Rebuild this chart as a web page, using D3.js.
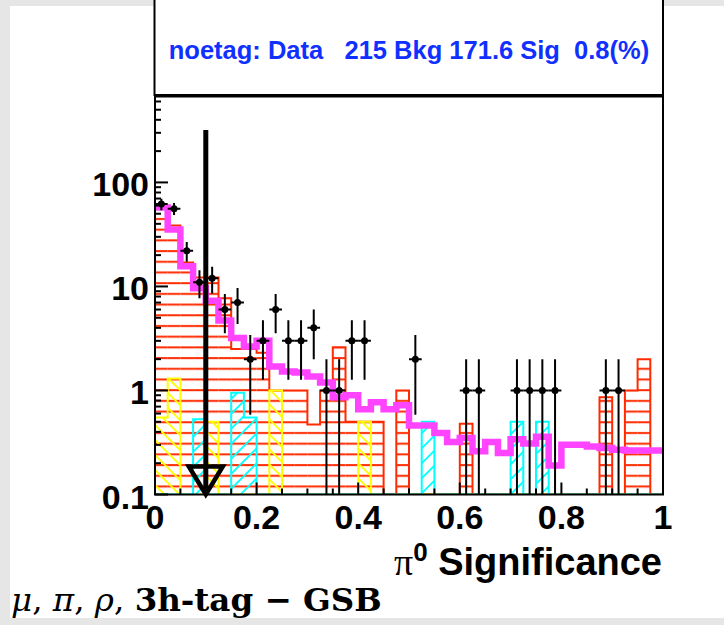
<!DOCTYPE html>
<html>
<head>
<meta charset="utf-8">
<script src="https://cdn.jsdelivr.net/npm/d3@7"></script>
<style>
  body { margin: 0; background: #e6e6e6; }
  svg { display: block; }
</style>
</head>
<body>
<div id="chart"></div>
<script>
// 40 bins over [0, 1]
var nBins = 40, xLo = 0, xHi = 1;

var dataCounts = [62, 56, 22, 11, 12, 6, 7, 2, 3, 6, 3, 3, 4, 1, 1, 3, 3, 0, 0, 0,
                  2, 0, 0, 0, 1, 1, 0, 0, 1, 1, 1, 1, 0, 0, 0, 1, 1, 0, 0, 0];
var bkgRed = [56, 38.6, 17, 12.2, 12.2, 7.7, 2.5, 2.5, 2.3, 1.0, 1.0, 1.0, 0.47, 1.0, 2.6, 0.5, 0.5, 0.5, 0, 1.0,
              0, 0, 0, 0, 0.48, 0, 0, 0, 0, 0, 0, 0, 0, 0, 0, 0.86, 0, 1.0, 2.0, 0];
var sigYellow = [0.55, 1.3, 0, 0, 0.5, 0, 0, 0, 0, 1.0, 0, 0, 0, 0, 0, 0, 0.5, 0, 0, 0,
                 0, 0, 0, 0, 0, 0, 0, 0, 0, 0, 0, 0, 0, 0, 0, 0, 0, 0, 0, 0];
var sigCyan = [0, 0, 0, 0.53, 0, 0, 0.95, 0.55, 0, 0, 0, 0, 0, 0, 0, 0, 0, 0, 0, 0,
               0, 0.5, 0, 0, 0, 0, 0, 0, 0.5, 0, 0.5, 0, 0, 0, 0, 0, 0, 0, 0, 0];
var mcTotal = [57.5, 35.3, 15.6, 9.6, 7.3, 4.7, 3.2, 2.65, 3.0, 1.7, 1.52, 1.49, 1.36, 1.19, 0.86, 0.9, 0.66, 0.77, 0.66, 0.72,
               0.46, 0.46, 0.39, 0.32, 0.35, 0.26, 0.32, 0.25, 0.34, 0.31, 0.36, 0.19, 0.30, 0.30, 0.29, 0.28, 0.27, 0.265, 0.265, 0.265];

var xTickLabels = [0, 0.2, 0.4, 0.6, 0.8, 1];
var yTickLabels = [0.1, 1, 10, 100];
var cutValue = 0.1, arrowTop = 320;
var statText = "noetag: Data   215 Bkg 171.6 Sig  0.8(%)";

var W = 724, H = 625;
var box = { left: 155, right: 663, top: 96.5, bottom: 494.5 };
var yMin = 0.1, yMax = 670;

var x = d3.scaleLinear().domain([xLo, xHi]).range([box.left, box.right]);
var y = d3.scaleLog().domain([yMin, yMax]).range([box.bottom, box.top]);
var bw = (xHi - xLo) / nBins;
var lowEdge = function (i) { return xLo + i * bw; };

var svg = d3.select("#chart").append("svg").attr("width", W).attr("height", H);
svg.append("rect").attr("width", W).attr("height", H).attr("fill", "#e6e6e6");
svg.append("rect").attr("x", 10).attr("y", 6).attr("width", W - 10).attr("height", 612).attr("fill", "#fff");

var defs = svg.append("defs");
defs.append("clipPath").attr("id", "plotClip").append("rect")
    .attr("x", box.left).attr("y", box.top).attr("width", box.right - box.left).attr("height", box.bottom - box.top);

var pRed = defs.append("pattern").attr("id", "hRed").attr("patternUnits", "userSpaceOnUse")
    .attr("width", 8).attr("height", 10.7);
pRed.append("line").attr("x1", 0).attr("x2", 8).attr("y1", 5).attr("y2", 5)
    .attr("stroke", "#ff2a00").attr("stroke-width", 2);
var pYel = defs.append("pattern").attr("id", "hYel").attr("patternUnits", "userSpaceOnUse")
    .attr("width", 15).attr("height", 15);
pYel.append("path").attr("d", "M-1,-1L16,16M-1,14L1,16M14,-1L16,1")
    .attr("stroke", "#ffff00").attr("stroke-width", 1.8);
var pCya = defs.append("pattern").attr("id", "hCya").attr("patternUnits", "userSpaceOnUse")
    .attr("width", 15).attr("height", 15);
pCya.append("path").attr("d", "M-1,16L16,-1M-1,1L1,-1M14,16L16,14")
    .attr("stroke", "#00ffff").attr("stroke-width", 1.8);

var plot = svg.append("g").attr("clip-path", "url(#plotClip)");

// hatched histogram: filled bins + step outline
function drawHatched(vals, pat, col) {
    var g = plot.append("g");
    vals.forEach(function (v, i) {
        if (v <= yMin) return;
        g.append("rect")
            .attr("x", x(lowEdge(i))).attr("width", x(lowEdge(i + 1)) - x(lowEdge(i)))
            .attr("y", y(v)).attr("height", y(yMin) - y(v))
            .attr("fill", "url(#" + pat + ")");
    });
    var pts = [[x(xLo), y(yMin)]];
    vals.forEach(function (v, i) {
        var yy = y(Math.max(v, yMin));
        pts.push([x(lowEdge(i)), yy], [x(lowEdge(i + 1)), yy]);
    });
    pts.push([x(xHi), y(yMin)]);
    g.append("path").attr("d", d3.line()(pts)).attr("fill", "none")
        .attr("stroke", col).attr("stroke-width", 2);
}
drawHatched(bkgRed, "hRed", "#ff2a00");
drawHatched(sigYellow, "hYel", "#ffff00");
drawHatched(sigCyan, "hCya", "#00ffff");

// total MC line
var mPts = [];
mcTotal.forEach(function (v, i) {
    mPts.push([x(lowEdge(i)), y(v)], [x(lowEdge(i + 1)), y(v)]);
});
plot.append("path").attr("d", d3.line()(mPts)).attr("fill", "none")
    .attr("stroke", "#ff44ff").attr("stroke-width", 6.5).attr("stroke-linejoin", "miter");

// data points
var dg = plot.append("g");
dataCounts.forEach(function (n, i) {
    if (n <= 0) return;
    var cx = x(lowEdge(i) + bw / 2), e = Math.sqrt(n);
    var lo = n - e > yMin ? n - e : yMin;
    dg.append("line").attr("x1", cx).attr("x2", cx).attr("y1", y(n + e)).attr("y2", y(lo))
        .attr("stroke", "#000").attr("stroke-width", 2);
    dg.append("line").attr("x1", x(lowEdge(i))).attr("x2", x(lowEdge(i + 1))).attr("y1", y(n)).attr("y2", y(n))
        .attr("stroke", "#000").attr("stroke-width", 2);
    dg.append("circle").attr("cx", cx).attr("cy", y(n)).attr("r", 3.5).attr("fill", "#000");
});

// frame and axes
svg.append("rect").attr("x", box.left).attr("y", box.top).attr("width", box.right - box.left)
    .attr("height", box.bottom - box.top).attr("fill", "none").attr("stroke", "#000").attr("stroke-width", 2);

var ax = svg.append("g").attr("stroke", "#000").attr("stroke-width", 2);
d3.range(0, 21).forEach(function (k) {
    var v = k * 0.05, major = k % 4 === 0;
    ax.append("line").attr("x1", x(v)).attr("x2", x(v))
        .attr("y1", box.bottom).attr("y2", box.bottom - (major ? 12 : 6));
});
y.ticks().forEach(function (v) {
    if (v > yMax) return;
    var major = Math.abs(Math.log10(v) - Math.round(Math.log10(v))) < 1e-6;
    ax.append("line").attr("x1", box.left).attr("x2", box.left + (major ? 13 : 6))
        .attr("y1", y(v)).attr("y2", y(v));
});

var lab = svg.append("g").attr("font-family", "'Liberation Sans', Arial, sans-serif")
    .attr("font-weight", "bold").attr("font-size", 34).attr("fill", "#000");
xTickLabels.forEach(function (v) {
    lab.append("text").attr("x", x(v)).attr("y", 529).attr("text-anchor", "middle").text(v);
});
yTickLabels.forEach(function (v) {
    lab.append("text").attr("x", 149).attr("y", y(v) + 14).attr("text-anchor", "end").text(v);
});

// cut arrow
var ag = svg.append("g").attr("stroke", "#000").attr("fill", "none");
var xa = x(cutValue), ya = y(yMin);
ag.append("line").attr("x1", xa).attr("x2", xa).attr("y1", y(arrowTop)).attr("y2", ya - 4).attr("stroke-width", 5);
ag.append("path").attr("d", "M" + (xa - 17) + "," + (ya - 28) + "L" + (xa + 17) + "," + (ya - 28) + "L" + xa + "," + ya + "Z")
    .attr("stroke-width", 4.5).attr("stroke-linejoin", "miter");

// stat box
svg.append("rect").attr("x", 154.5).attr("y", -20).attr("width", 508.5).attr("height", 115)
    .attr("fill", "#fff").attr("stroke", "#000").attr("stroke-width", 2);
svg.append("text").attr("x", 409).attr("y", 59).attr("text-anchor", "middle")
    .attr("font-family", "'Liberation Sans', Arial, sans-serif").attr("font-weight", "bold")
    .attr("font-size", 25.5).attr("fill", "#1030ff").style("white-space", "pre").text(statText);

// axis title
var t = svg.append("text").attr("x", 662).attr("y", 575).attr("text-anchor", "end")
    .attr("font-family", "'Liberation Sans', Arial, sans-serif").attr("font-weight", "bold")
    .attr("font-size", 38).attr("fill", "#000");
t.append("tspan").attr("font-family", "'Liberation Serif', serif").attr("font-weight", "normal").text("\u03c0");
t.append("tspan").attr("font-size", 26).attr("dy", -14).text("0");
t.append("tspan").attr("dy", 14).text(" Significance");

// bottom label
var b = svg.append("text").attr("x", 11).attr("y", 611)
    .attr("font-family", "'DejaVu Serif', serif").attr("font-size", 32.5).attr("fill", "#000");
b.append("tspan").attr("font-style", "italic").text("\u03bc");
b.append("tspan").text(", ");
b.append("tspan").attr("font-style", "italic").text("\u03c0");
b.append("tspan").text(", ");
b.append("tspan").attr("font-style", "italic").text("\u03c1");
b.append("tspan").text(", ");
b.append("tspan").attr("font-weight", "bold").text("3h-tag \u2212 GSB");
</script>
</body>
</html>
